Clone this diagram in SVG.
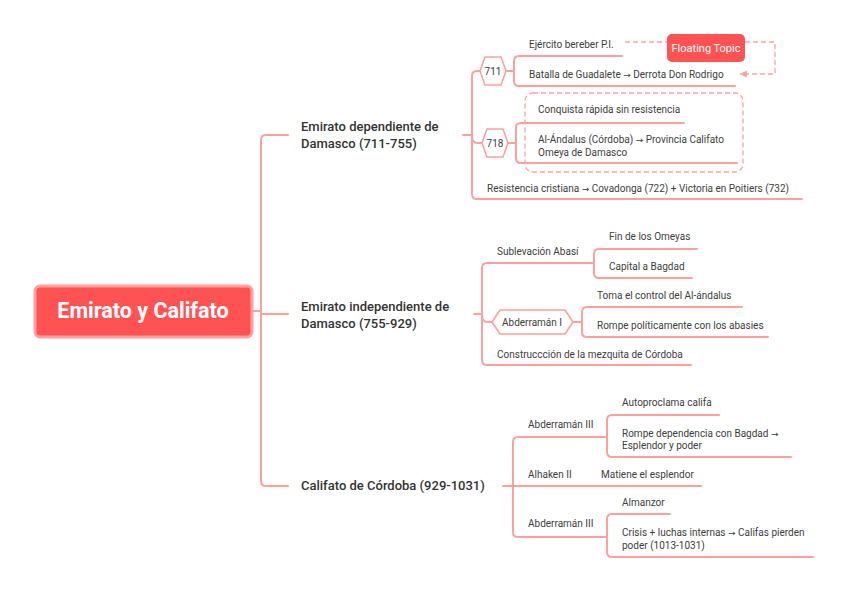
<svg xmlns="http://www.w3.org/2000/svg" width="848" height="592" viewBox="0 0 848 592">
<defs>
<style>
.ln{fill:none;stroke:#FFA0A0;stroke-width:2;stroke-linecap:round}
.hx{fill:#fff;stroke:#FFA0A0;stroke-width:1.6;stroke-linejoin:round}
.ds{fill:none;stroke:#FFA0A0;stroke-width:1.3;stroke-dasharray:5 3}
.t{font-family:Roboto,"Liberation Sans",sans-serif;font-size:10px;fill:#3d3d3d}
.a{font-family:"DejaVu Sans",sans-serif;font-size:9px}
.b{font-family:Roboto,"Liberation Sans",sans-serif;font-size:13px;font-weight:500;fill:#333}
</style>
<marker id="ar" viewBox="0 0 8 8" refX="7" refY="4" markerWidth="6" markerHeight="6" orient="auto-start-reverse">
<path d="M0,0.5 L7,4 L0,7.5 Z" fill="#FFA0A0"/>
</marker>
</defs>
<rect width="848" height="592" fill="#fff"/>
<g id="connectors">
<path class="ln" d="M253,311 H261"/>
<path class="ln" d="M288,135 H266 Q261,135 261,140 V481 Q261,486 266,486 H288"/>
<path class="ln" d="M261,314 H288"/>
<path class="ln" d="M463,135 H472"/>
<path class="ln" d="M480,71 H477 Q472,71 472,76 V194 Q472,199 477,199 H802"/>
<path class="ln" d="M472,137 Q472,143 478,143 H482"/>
<path class="ln" d="M506,71 H514"/>
<path class="ln" d="M622,56 H519 Q514,56 514,61 V81 Q514,86 519,86 H735"/>
<path class="ln" d="M508,143 H516"/>
<path class="ln" d="M684,123 H521 Q516,123 516,128 V158 Q516,163 521,163 H737"/>
<path class="ln" d="M474,314 H482"/>
<path class="ln" d="M594,263 H487 Q482,263 482,268 V360 Q482,365 487,365 H691"/>
<path class="ln" d="M482,316 Q482,322 488,322 H492"/>
<path class="ln" d="M697,249 H599 Q594,249 594,254 V273 Q594,278 599,278 H692"/>
<path class="ln" d="M573,322 H582"/>
<path class="ln" d="M742,307 H587 Q582,307 582,312 V332 Q582,337 587,337 H768"/>
<path class="ln" d="M503,486 H701"/>
<path class="ln" d="M607,437 H518 Q513,437 513,442 V532 Q513,537 518,537 H607"/>
<path class="ln" d="M719,415 H612 Q607,415 607,420 V452 Q607,457 612,457 H791"/>
<path class="ln" d="M670,514 H612 Q607,514 607,519 V552 Q607,557 612,557 H813"/>
<path class="ds" d="M625,42 H775 V74 H740" marker-end="url(#ar)"/>
<rect class="ds" x="525" y="93" width="218" height="79" rx="8"/>
</g>
<g id="root">
<rect x="35" y="286" width="217" height="51" rx="5" fill="#FF5353" stroke="#FFA0A0" stroke-width="3"/>
<text x="143" y="318" text-anchor="middle" font-family="Roboto,'Liberation Sans',sans-serif" font-size="21.5" font-weight="700" fill="#fff">Emirato y Califato</text>
</g>
<g id="b1">
<text class="b" x="301" y="131">Emirato dependiente de</text>
<text class="b" x="301" y="148">Damasco (711-755)</text>
</g>
<g id="b2">
<text class="b" x="301" y="311">Emirato independiente de</text>
<text class="b" x="301" y="328">Damasco (755-929)</text>
</g>
<g id="b3">
<text class="b" x="301" y="490">Califato de Córdoba (929-1031)</text>
</g>
<g id="n711">
<polygon class="hx" points="480,71 485,57 501,57 506,71 501,85 485,85"/>
<text class="t" x="493" y="75" text-anchor="middle">711</text>
</g>
<g id="n711a"><text class="t" x="529" y="48">Ejército bereber P.I.</text></g>
<g id="n711b"><text class="t" x="529" y="78">Batalla de Guadalete <tspan class="a">→</tspan> Derrota Don Rodrigo</text></g>
<g id="n718">
<polygon class="hx" points="482,143 487,129 503,129 508,143 503,157 487,157"/>
<text class="t" x="495" y="147" text-anchor="middle">718</text>
</g>
<g id="n718a"><text class="t" x="538" y="113">Conquista rápida sin resistencia</text></g>
<g id="n718b"><text class="t" x="538" y="143">Al-Ándalus (Córdoba) <tspan class="a">→</tspan> Provincia Califato</text><text class="t" x="538" y="156">Omeya de Damasco</text></g>
<g id="n1c"><text class="t" x="487" y="192">Resistencia cristiana <tspan class="a">→</tspan> Covadonga (722) + Victoria en Poitiers (732)</text></g>
<g id="floating">
<rect x="667" y="34" width="78" height="28" rx="5" fill="#FF5353"/>
<text x="706" y="52" text-anchor="middle" font-family="Roboto,'Liberation Sans',sans-serif" font-size="11" fill="#fff">Floating Topic</text>
</g>
<g id="n2a"><text class="t" x="497" y="255">Sublevación Abasí</text></g>
<g id="n2a1"><text class="t" x="609" y="240">Fin de los Omeyas</text></g>
<g id="n2a2"><text class="t" x="609" y="270">Capital a Bagdad</text></g>
<g id="n2b">
<polygon class="hx" points="492,322 500,310 565,310 573,322 565,334 500,334"/>
<text class="t" x="502" y="326" font-size="10.5">Abderramán I</text>
</g>
<g id="n2b1"><text class="t" x="597" y="299">Toma el control del Al-ándalus</text></g>
<g id="n2b2"><text class="t" x="597" y="329">Rompe políticamente con los abasies</text></g>
<g id="n2c"><text class="t" x="497" y="358">Construccción de la mezquita de Córdoba</text></g>
<g id="n3a"><text class="t" x="528" y="428">Abderramán III</text></g>
<g id="n3a1"><text class="t" x="622" y="406">Autoproclama califa</text></g>
<g id="n3a2"><text class="t" x="622" y="437">Rompe dependencia con Bagdad <tspan class="a">→</tspan></text><text class="t" x="622" y="449">Esplendor y poder</text></g>
<g id="n3b"><text class="t" x="528" y="478">Alhaken II</text></g>
<g id="n3b1"><text class="t" x="601" y="478">Matiene el esplendor</text></g>
<g id="n3c"><text class="t" x="528" y="527">Abderramán III</text></g>
<g id="n3c1"><text class="t" x="622" y="506">Almanzor</text></g>
<g id="n3c2"><text class="t" x="622" y="536">Crisis + luchas internas <tspan class="a">→</tspan> Califas pierden</text><text class="t" x="622" y="549">poder (1013-1031)</text></g>
</svg>
